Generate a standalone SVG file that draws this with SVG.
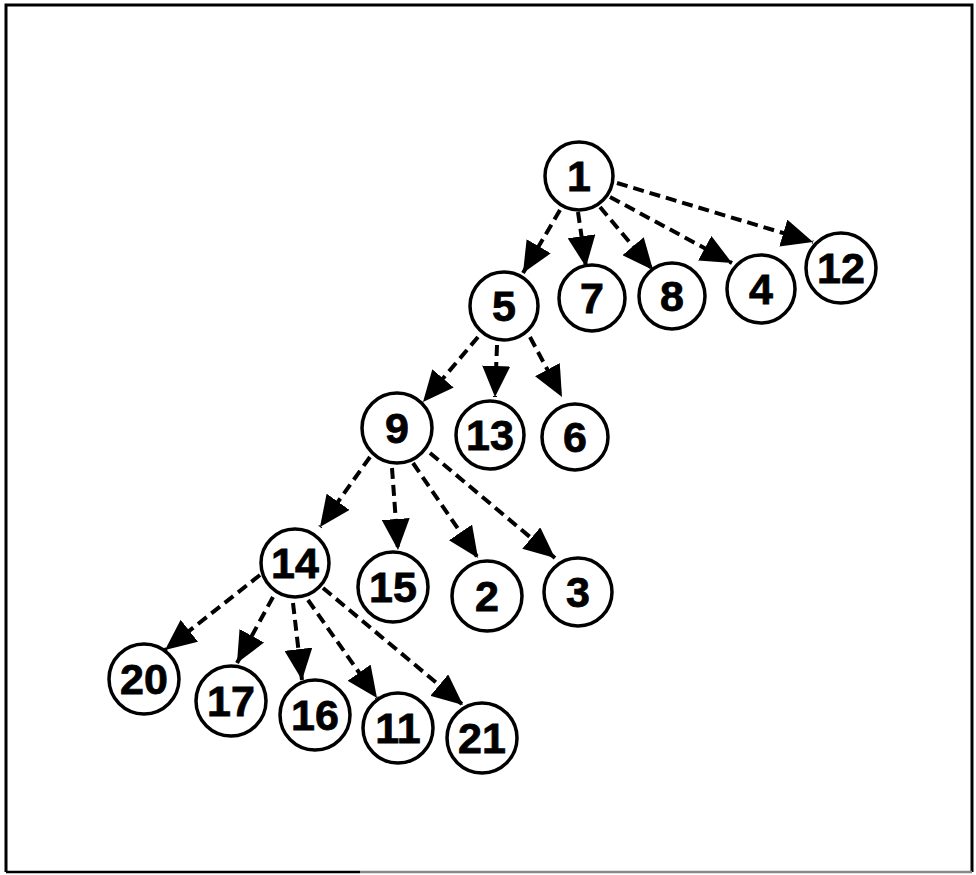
<svg xmlns="http://www.w3.org/2000/svg" width="976" height="875" viewBox="0 0 976 875">
<defs>
<style>
.n circle{fill:#fff;stroke:#000;stroke-width:3.5}
.n text{font-family:"Liberation Sans",Arial,sans-serif;font-weight:bold;font-size:43px;text-anchor:middle;fill:#000;stroke:#000;stroke-width:0.8}
#edges line{stroke:#000;stroke-width:4;stroke-dasharray:11 6;marker-end:url(#ah)}
</style>
<marker id="ah" markerUnits="userSpaceOnUse" markerWidth="31" markerHeight="28" refX="31" refY="14" orient="auto" viewBox="0 0 31 28">
<path d="M0,0 L31,14 L0,28 z" fill="#000"/>
</marker>
</defs>
<rect x="0" y="0" width="976" height="875" fill="#fff"/>
<path d="M6,872 L6,5 L972,5 L972,872" fill="none" stroke="#000" stroke-width="3"/>
<line x1="6" y1="872" x2="360" y2="872" stroke="#000" stroke-width="2.5"/>
<line x1="360" y1="872" x2="972" y2="872" stroke="#888" stroke-width="2.5"/>
<g id="edges">
<line x1="560" y1="210" x2="523" y2="273"/>
<line x1="578" y1="212" x2="586" y2="267"/>
<line x1="600" y1="207" x2="653" y2="270"/>
<line x1="610" y1="197" x2="732" y2="263"/>
<line x1="617" y1="183" x2="813" y2="242"/>
<line x1="478" y1="337" x2="423" y2="402"/>
<line x1="497" y1="345" x2="495" y2="397"/>
<line x1="530" y1="337" x2="562" y2="397"/>
<line x1="370" y1="457" x2="320" y2="527"/>
<line x1="392" y1="468" x2="398" y2="550"/>
<line x1="413" y1="463" x2="478" y2="558"/>
<line x1="430" y1="453" x2="555" y2="558"/>
<line x1="260" y1="575" x2="165" y2="650"/>
<line x1="273" y1="597" x2="237" y2="663"/>
<line x1="293" y1="603" x2="302" y2="680"/>
<line x1="308" y1="600" x2="377" y2="698"/>
<line x1="323" y1="588" x2="463" y2="705"/>
</g>
<g id="n1" class="n"><circle cx="579" cy="176" r="34"/><text x="579" y="191">1</text></g>
<g id="n5" class="n"><circle cx="504" cy="306" r="34"/><text x="504" y="321">5</text></g>
<g id="n7" class="n"><circle cx="592" cy="298" r="33"/><text x="592" y="313">7</text></g>
<g id="n8" class="n"><circle cx="672" cy="296" r="33"/><text x="672" y="311">8</text></g>
<g id="n4" class="n"><circle cx="761" cy="289" r="34"/><text x="761" y="304">4</text></g>
<g id="n12" class="n"><circle cx="841" cy="268" r="35"/><text x="841" y="283">12</text></g>
<g id="n9" class="n"><circle cx="397" cy="428" r="35"/><text x="397" y="443">9</text></g>
<g id="n13" class="n"><circle cx="490" cy="435" r="34"/><text x="490" y="450">13</text></g>
<g id="n6" class="n"><circle cx="575" cy="437" r="33"/><text x="575" y="452">6</text></g>
<g id="n14" class="n"><circle cx="295" cy="563" r="34"/><text x="295" y="578">14</text></g>
<g id="n15" class="n"><circle cx="393" cy="587" r="35"/><text x="393" y="602">15</text></g>
<g id="n2" class="n"><circle cx="487" cy="596" r="35"/><text x="487" y="611">2</text></g>
<g id="n3" class="n"><circle cx="578" cy="592" r="34"/><text x="578" y="607">3</text></g>
<g id="n20" class="n"><circle cx="144" cy="679" r="35"/><text x="144" y="694">20</text></g>
<g id="n17" class="n"><circle cx="231" cy="701" r="35"/><text x="231" y="716">17</text></g>
<g id="n16" class="n"><circle cx="315" cy="715" r="35"/><text x="315" y="730">16</text></g>
<g id="n11" class="n"><circle cx="398" cy="728" r="35"/><text x="398" y="743">11</text></g>
<g id="n21" class="n"><circle cx="482" cy="738" r="35"/><text x="482" y="753">21</text></g>
</svg>
